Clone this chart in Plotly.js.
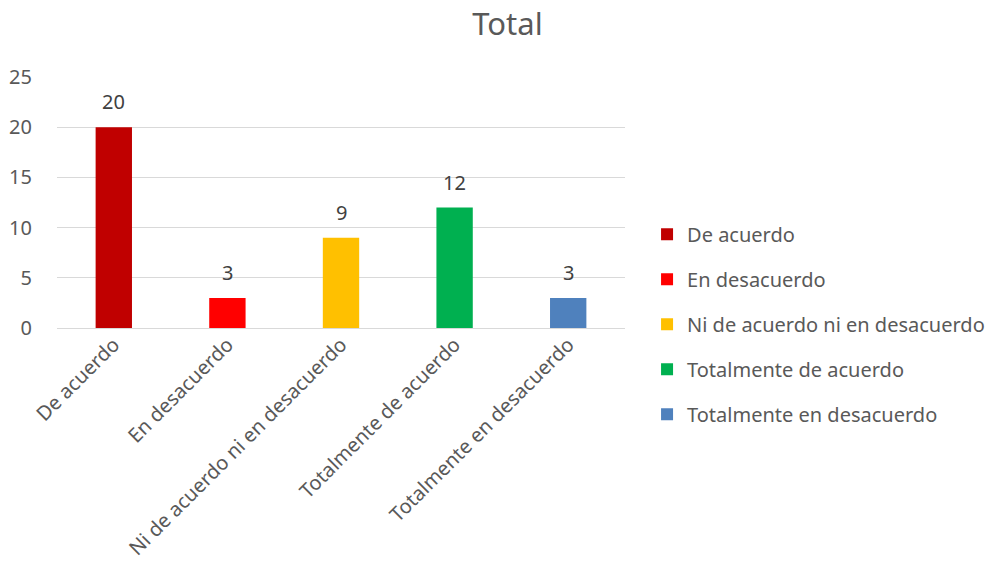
<!DOCTYPE html>
<html>
<head>
<meta charset="utf-8">
<script src="https://cdn.plot.ly/plotly-3.0.1.min.js"></script>
<style>html,body{margin:0;padding:0;background:#fff;}#chart{width:997px;height:577px;}</style>
</head>
<body>
<div id="chart"></div>
<script>
var categories = ["De acuerdo", "En desacuerdo", "Ni de acuerdo ni en desacuerdo", "Totalmente de acuerdo", "Totalmente en desacuerdo"];
var values = [20, 3, 9, 12, 3];
var colors = ["#C00000", "#FF0000", "#FFC000", "#00B050", "#4F81BD"];
var yTicks = [0, 5, 10, 15, 20, 25];

var FONT = "Noto Sans, Open Sans, sans-serif";
var traces = categories.map(function (c, i) {
  return {
    type: "bar",
    name: c,
    x: [c],
    y: [values[i]],
    width: 0.32,
    marker: {color: colors[i]},
    legendgroup: "g" + i,
    hoverinfo: "x+y"
  };
});

var annotations = categories.map(function (c, i) {
  return {
    x: c, y: values[i], xref: "x", yref: "y",
    text: String(values[i]), showarrow: false,
    yanchor: "bottom", yshift: 10,
    font: {family: FONT, size: 20, color: "#404040"}
  };
});

var layout = {
  width: 997, height: 577,
  margin: {l: 57, r: 372, t: 77, b: 249, pad: 0, autoexpand: false},
  paper_bgcolor: "#fff", plot_bgcolor: "#fff",
  title: {text: "Total", x: 0.509, xanchor: "center", y: 0.958, yanchor: "middle",
          font: {family: FONT, size: 31, color: "#595959"}},
  barmode: "overlay",
  showlegend: true,
  legend: {xref: "container", yref: "container", x: 0.649, xanchor: "left", y: 0.438, yanchor: "middle",
           font: {family: FONT, size: 20, color: "#595959"},
           tracegroupgap: 16, itemwidth: 30, traceorder: "grouped"},
  xaxis: {type: "category", categoryarray: categories, categoryorder: "array",
          tickangle: -45, showgrid: false, showline: false, zeroline: false, automargin: false,
          ticks: "", tickfont: {family: FONT, size: 20, color: "#595959"}},
  yaxis: {range: [0, 25], tickvals: yTicks, showgrid: true, gridcolor: "#D9D9D9", gridwidth: 1,
          zeroline: true, zerolinecolor: "#D9D9D9", zerolinewidth: 1, showline: false, automargin: false,
          ticks: "outside", ticklen: 20, tickcolor: "rgba(0,0,0,0)",
          tickfont: {family: FONT, size: 20, color: "#595959"}},
  annotations: annotations
};

Plotly.newPlot("chart", traces, layout, {displayModeBar: false, staticPlot: true});
</script>
</body>
</html>
